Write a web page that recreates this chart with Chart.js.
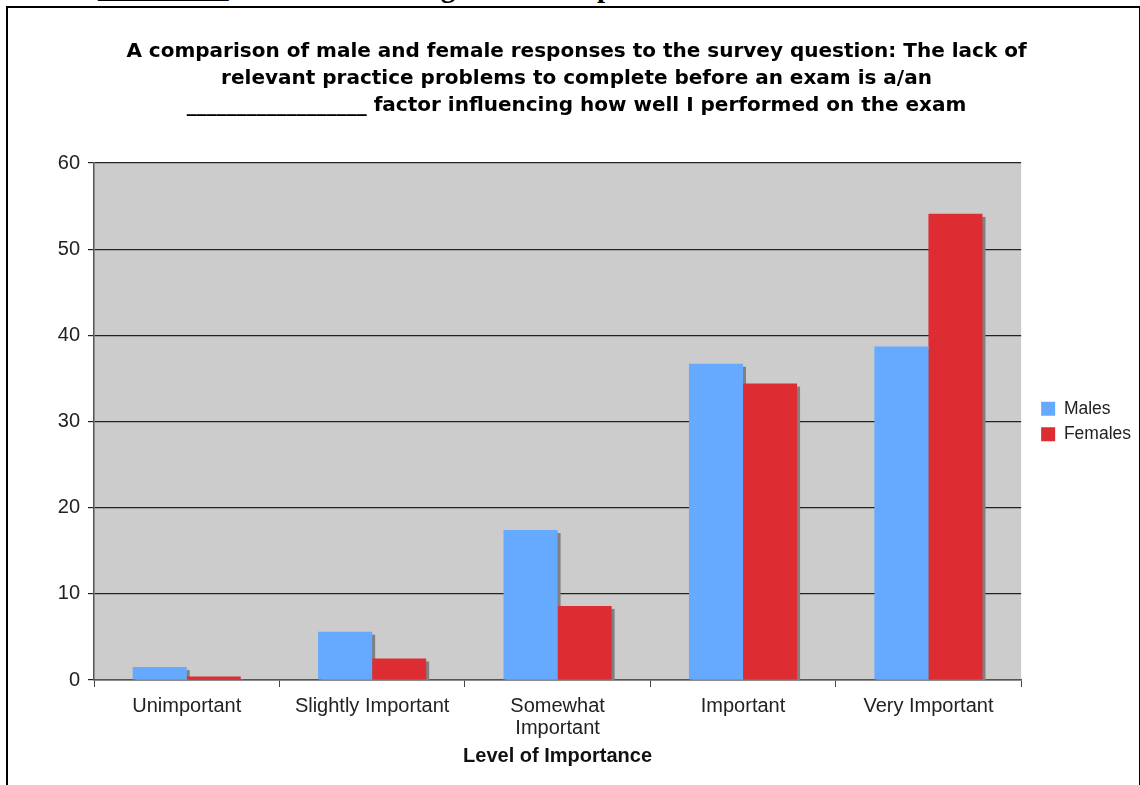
<!DOCTYPE html>
<html>
<head>
<meta charset="utf-8">
<title>Importance of practice problems</title>
<script src="https://cdn.jsdelivr.net/npm/chart.js@4.4.1/dist/chart.umd.min.js"></script>
<style>
  html, body { margin: 0; padding: 0; background: #fff; overflow: hidden; }
  body { width: 1140px; height: 785px; position: relative; }
  #header {
    position: absolute; left: 11px; top: -27px;
    font: bold 29px "Liberation Serif", serif; line-height: 28px;
    white-space: nowrap; color: #000;
  }
  #frame {
    position: absolute; left: 6px; top: 6px; width: 1131px; height: 800px;
    border: 2px solid #000; border-bottom: none;
  }
  #chart { position: absolute; left: 0; top: 0; }
</style>
</head>
<body>
<div id="header">is a/an _________ factor influencing how well I perform on the exams.</div>
<div id="frame"></div>
<canvas id="chart" width="1140" height="785"></canvas>

<script>
// survey answers, percent of respondents
const categories = ['Unimportant', 'Slightly Important', ['Somewhat', 'Important'], 'Important', 'Very Important'];
const males = [1.5, 5.6, 17.4, 36.7, 38.7];
const females = [0.4, 2.5, 8.6, 34.4, 54.1];
const yTicks = [0, 10, 20, 30, 40, 50, 60];

const titleLines = [
    'A comparison of male and female responses to the survey question: The lack of',
    'relevant practice problems to complete before an exam is a/an',
    '__________________ factor influencing how well I performed on the exam'
];

window.addEventListener('load', onLoad);

function onLoad() {
    // grey plot area
    const plotBackground = {
        id: 'plotBackground',
        beforeDraw(chart) {
            const { ctx, chartArea: a } = chart;
            ctx.save();
            ctx.fillStyle = '#cccccc';
            ctx.fillRect(a.left, a.top, a.width, a.height);
            ctx.restore();
        }
    };

    // flat drop shadow behind every bar, drawn before the bars themselves
    const barShadow = {
        id: 'barShadow',
        beforeDatasetsDraw(chart) {
            const { ctx, chartArea: a } = chart;
            ctx.save();
            ctx.beginPath();
            ctx.rect(a.left, a.top, a.width, a.height);
            ctx.clip();
            ctx.fillStyle = '#808080';
            chart.data.datasets.forEach((ds, i) => {
                chart.getDatasetMeta(i).data.forEach(bar => {
                    const { x, y, base, width } = bar.getProps(['x', 'y', 'base', 'width'], true);
                    ctx.fillRect(x - width / 2 + 3, y + 3, width, base - y);
                });
            });
            ctx.restore();
        }
    };

    // small shifts for title and legend
    const nudge = {
        id: 'nudge',
        afterLayout(chart) {
            chart.titleBlock.left += 12;
            chart.titleBlock.right += 12;
            chart.legend.left += 12;
            chart.legend.right += 12;
        }
    };

    const ctx = document.getElementById('chart').getContext('2d');
    const chart = new Chart(ctx, {
        type: 'bar',
        data: {
            labels: categories,
            datasets: [{
                label: 'Males',
                data: males,
                backgroundColor: '#66aaff',
                borderWidth: 0
            }, {
                label: 'Females',
                data: females,
                backgroundColor: '#dd2d33',
                borderWidth: 0
            }]
        },
        options: {
            responsive: false,
            animation: false,
            layout: {
                padding: { top: 0, left: 0, right: 11, bottom: 17 }
            },
            datasets: {
                bar: { categoryPercentage: 0.583, barPercentage: 1 }
            },
            plugins: {
                title: {
                    display: true,
                    text: titleLines,
                    color: '#000',
                    font: { family: 'DejaVu Sans', size: 20, weight: 'bold', lineHeight: 1.35 },
                    padding: { top: 38, bottom: 44 }
                },
                legend: {
                    position: 'right',
                    fullSize: false,
                    labels: {
                        boxWidth: 14,
                        boxHeight: 14,
                        padding: 8,
                        color: '#222',
                        font: { family: 'Liberation Sans', size: 17.5 }
                    }
                },
                tooltip: { enabled: false }
            },
            scales: {
                x: {
                    grid: {
                        display: true,
                        offset: true,
                        drawOnChartArea: false,
                        drawTicks: true,
                        tickLength: 7,
                        color: '#444'
                    },
                    border: { display: true, color: '#555', width: 1.5 },
                    ticks: {
                        autoSkip: false,
                        maxRotation: 0,
                        padding: 8,
                        color: '#222',
                        font: { family: 'Liberation Sans', size: 20, lineHeight: 1.1 }
                    },
                    title: {
                        display: true,
                        text: 'Level of Importance',
                        color: '#111',
                        font: { family: 'Liberation Sans', size: 20, weight: 'bold' },
                        padding: { top: -3, bottom: 0 }
                    }
                },
                y: {
                    min: yTicks[0],
                    max: yTicks[yTicks.length - 1],
                    afterFit(scale) { scale.width = 94; },
                    afterBuildTicks(scale) { scale.ticks = yTicks.map(v => ({ value: v })); },
                    grid: {
                        color: '#222',
                        lineWidth: 1.2,
                        drawTicks: true,
                        tickLength: 6
                    },
                    border: { display: true, color: '#555', width: 1.5 },
                    ticks: {
                        padding: 8,
                        color: '#222',
                        font: { family: 'Liberation Sans', size: 20 }
                    }
                }
            }
        },
        plugins: [plotBackground, barShadow, nudge]
    });
}
</script>
</body>
</html>
